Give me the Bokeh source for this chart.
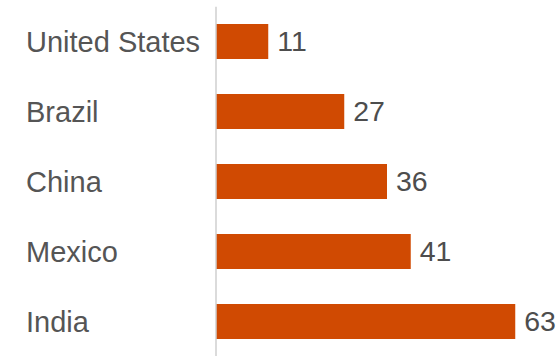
from bokeh.plotting import figure
from bokeh.models import FactorRange, Range1d, ColumnDataSource, Span
from bokeh.core.properties import value
from bokeh.embed import file_html
from bokeh.resources import INLINE

countries = ["United States", "Brazil", "China", "Mexico", "India"]
values = [11, 27, 36, 41, 63]
labels = [str(v) for v in values]

FONT = "Liberation Sans"
PX_PER_UNIT = 4.75
LEFT_PX = 215.5
src = ColumnDataSource(dict(country=countries, value=values, label=labels,
                            zero=[0] * len(countries)))

p = figure(width=558, height=356, output_backend="svg", toolbar_location=None,
           y_range=FactorRange(factors=list(reversed(countries)), range_padding=0),
           x_range=Range1d(-LEFT_PX / PX_PER_UNIT, (558 - LEFT_PX) / PX_PER_UNIT),
           min_border_left=0, min_border_right=0, min_border_top=6, min_border_bottom=0)

p.hbar(y="country", right="value", left=0, height=0.5, source=src,
       fill_color="#d04a02", line_color=None)
p.text(x="value", y="country", text="label", source=src, x_offset=9,
       text_baseline="middle", text_align="left", text_font=value(FONT),
       text_font_size="28.5px", text_color="#4d4d4d")
p.text(x="zero", y="country", text="country", source=src, x_offset=-190,
       text_baseline="middle", text_align="left", text_font=value(FONT),
       text_font_size="29px", text_color="#555555")
p.add_layout(Span(location=0, dimension="height", line_color="#cfcfcf", line_width=1.5))

p.xaxis.visible = False
p.yaxis.visible = False
p.grid.visible = False
p.outline_line_color = None

open("out.html", "w").write(file_html(p, INLINE))
